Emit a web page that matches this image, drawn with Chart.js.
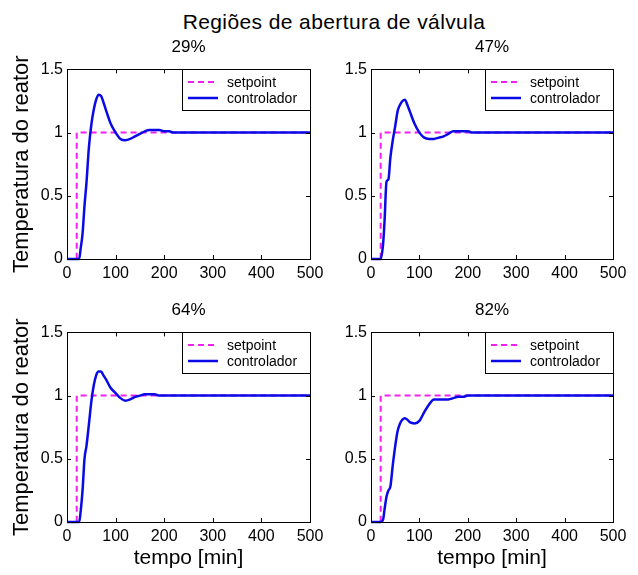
<!DOCTYPE html>
<html lang="pt">
<head>
<meta charset="utf-8">
<title>Regiões de abertura de válvula</title>
<script src="https://cdn.jsdelivr.net/npm/chart.js@4.4.1/dist/chart.umd.min.js"></script>
<style>
  html, body { margin: 0; background: #fff; }
  #figura { position: relative; width: 638px; height: 575px; overflow: hidden; font-family: 'Liberation Sans', Arial, sans-serif; }
  #titulo { position: absolute; left: 334px; top: 10px; transform: translateX(-50%); font-size: 21px; line-height: 24px; white-space: nowrap; color: #000; letter-spacing: 0.4px; }
  canvas { position: absolute; }
</style>
</head>
<body>
<div id="figura">
  <div id="titulo">Regiões de abertura de válvula</div>
  <canvas id="painel29" width="330" height="259" style="left:0;top:30px"></canvas>
  <canvas id="painel47" width="329" height="259" style="left:304px;top:30px"></canvas>
  <canvas id="painel64" width="330" height="282" style="left:0;top:293px"></canvas>
  <canvas id="painel82" width="329" height="282" style="left:304px;top:293px"></canvas>
</div>
<script>
// tempo de simulação [min]
const tempo = [0, 20, 25, 28, 32, 36, 40, 45, 50, 55, 60, 65, 70, 75, 80, 90, 100, 110, 120, 130, 140, 150, 160, 170, 180, 190, 200, 210, 220, 250, 300, 400, 500];

// resposta do controlador para cada abertura de válvula
const controlador29 = [0, 0, 0, 0.08, 0.2, 0.42, 0.6, 0.88, 1.06, 1.18, 1.26, 1.3, 1.29, 1.24, 1.18, 1.07, 1.0, 0.95, 0.94, 0.95, 0.97, 0.99, 1.01, 1.02, 1.02, 1.02, 1.01, 1.01, 1.0, 1.0, 1.0, 1.0, 1.0];
const controlador47 = [0, 0, 0.12, 0.3, 0.61, 0.63, 0.8, 0.94, 1.05, 1.17, 1.22, 1.25, 1.26, 1.22, 1.17, 1.07, 1.0, 0.96, 0.95, 0.95, 0.96, 0.97, 0.99, 1.01, 1.01, 1.01, 1.01, 1.0, 1.0, 1.0, 1.0, 1.0, 1.0];
const controlador64 = [0, 0, 0, 0.08, 0.25, 0.5, 0.6, 0.77, 0.95, 1.08, 1.16, 1.19, 1.19, 1.16, 1.13, 1.06, 1.02, 0.98, 0.96, 0.97, 0.99, 1.0, 1.01, 1.01, 1.01, 1.0, 1.0, 1.0, 1.0, 1.0, 1.0, 1.0, 1.0];
const controlador82 = [0, 0, 0.02, 0.1, 0.2, 0.25, 0.28, 0.45, 0.6, 0.72, 0.78, 0.81, 0.82, 0.81, 0.79, 0.78, 0.8, 0.87, 0.93, 0.97, 0.97, 0.97, 0.97, 0.98, 0.99, 0.99, 1.0, 1.0, 1.0, 1.0, 1.0, 1.0, 1.0];

// degrau do setpoint
const setpointTempo = [0, 20, 20, 500];
const setpointValor = [0, 0, 1, 1];

const aberturas = ['29%', '47%', '64%', '82%'];
const respostas = [controlador29, controlador47, controlador64, controlador82];
const nomesSeries = ['setpoint', 'controlador'];
const tituloX = 'tempo [min]';
const tituloY = 'Temperatura do reator';

const FONTE = "'Liberation Sans', Arial, sans-serif";

const moldura = {
    id: 'moldura',
    afterDatasetsDraw(chart) {
        const { ctx, chartArea, scales } = chart;
        const tam = 4;
        ctx.save();
        ctx.strokeStyle = '#000';
        ctx.lineWidth = 1;
        ctx.beginPath();
        scales.x.ticks.forEach((t) => {
            const px = Math.round(scales.x.getPixelForValue(t.value)) + 0.5;
            ctx.moveTo(px, chartArea.bottom);
            ctx.lineTo(px, chartArea.bottom - tam);
            ctx.moveTo(px, chartArea.top);
            ctx.lineTo(px, chartArea.top + tam);
        });
        scales.y.ticks.forEach((t) => {
            const py = Math.round(scales.y.getPixelForValue(t.value)) + 0.5;
            ctx.moveTo(chartArea.left, py);
            ctx.lineTo(chartArea.left + tam, py);
            ctx.moveTo(chartArea.right, py);
            ctx.lineTo(chartArea.right - tam, py);
        });
        ctx.stroke();
        ctx.strokeRect(Math.round(chartArea.left) + 0.5, Math.round(chartArea.top) + 0.5,
            Math.round(chartArea.right - chartArea.left), Math.round(chartArea.bottom - chartArea.top));
        ctx.restore();
    },
};

const legendaInterna = {
    id: 'legendaInterna',
    afterDatasetsDraw(chart) {
        const { ctx, chartArea } = chart;
        const larg = 128;
        const alt = 41;
        const x0 = Math.round(chartArea.right) - larg;
        const y0 = Math.round(chartArea.top);
        ctx.save();
        ctx.fillStyle = '#fff';
        ctx.fillRect(x0, y0, larg, alt);
        ctx.strokeStyle = '#000';
        ctx.lineWidth = 1;
        ctx.strokeRect(x0 + 0.5, y0 + 0.5, larg, alt);
        ctx.font = '14px ' + FONTE;
        ctx.textBaseline = 'middle';
        chart.data.datasets.forEach((ds, i) => {
            const y = y0 + 13 + i * 16;
            ctx.strokeStyle = ds.borderColor;
            ctx.lineWidth = ds.borderWidth;
            ctx.setLineDash(ds.borderDash || []);
            ctx.beginPath();
            ctx.moveTo(x0 + 6, y);
            ctx.lineTo(x0 + 36, y);
            ctx.stroke();
            ctx.setLineDash([]);
            ctx.fillStyle = '#000';
            ctx.fillText(ds.label, x0 + 45, y + 1);
        });
        ctx.restore();
    },
};

function criarPainel(idCanvas, titulo, resposta, mostrarY, mostrarX, alturaX) {
    const canvas = document.getElementById(idCanvas);
    new Chart(canvas, {
        type: 'line',
        data: {
            datasets: [
                {
                    label: nomesSeries[0],
                    data: setpointTempo.map((t, i) => ({ x: t, y: setpointValor[i] })),
                    borderColor: '#f020f0',
                    borderWidth: 2,
                    borderDash: [6, 4],
                    pointRadius: 0,
                    fill: false,
                    order: 1,
                    clip: false,
                },
                {
                    label: nomesSeries[1],
                    data: tempo.map((t, i) => ({ x: t, y: resposta[i] })),
                    borderColor: '#0a0ae6',
                    borderWidth: 2.5,
                    pointRadius: 0,
                    fill: false,
                    cubicInterpolationMode: 'monotone',
                    order: 0,
                    clip: false,
                },
            ],
        },
        options: {
            responsive: false,
            animation: false,
            layout: { padding: { left: 0, right: 20, top: 0, bottom: 0 } },
            plugins: {
                legend: { display: false },
                tooltip: { enabled: false },
                title: {
                    display: true,
                    text: titulo,
                    fullSize: false,
                    color: '#000',
                    font: { family: FONTE, size: 17, weight: 'normal' },
                    padding: { top: 7, bottom: 12 },
                },
            },
            scales: {
                x: {
                    type: 'linear',
                    min: 0,
                    max: 500,
                    grid: { display: false, drawTicks: false },
                    border: { display: false },
                    ticks: { stepSize: 100, padding: 5, color: '#000', font: { family: FONTE, size: 16 } },
                    title: {
                        display: mostrarX,
                        text: tituloX,
                        color: '#000',
                        font: { family: FONTE, size: 21 },
                        padding: { top: 0, bottom: 4 },
                    },
                    afterFit: (scale) => { scale.height = alturaX; },
                },
                y: {
                    min: 0,
                    max: 1.5,
                    grid: { display: false, drawTicks: false },
                    border: { display: false },
                    ticks: {
                        stepSize: 0.5,
                        padding: 4,
                        color: '#000',
                        font: { family: FONTE, size: 16 },
                        callback: (valor) => String(valor),
                    },
                    title: {
                        display: mostrarY,
                        text: tituloY,
                        color: '#000',
                        font: { family: FONTE, size: 22 },
                        padding: { top: 9, bottom: 0 },
                    },
                    afterFit: (scale) => { scale.width = 67; },
                },
            },
        },
        plugins: [moldura, legendaInterna],
    });
}

criarPainel('painel29', aberturas[0], respostas[0], true, false, 30);
criarPainel('painel47', aberturas[1], respostas[1], false, false, 30);
criarPainel('painel64', aberturas[2], respostas[2], true, true, 53);
criarPainel('painel82', aberturas[3], respostas[3], false, true, 53);
</script>
</body>
</html>
